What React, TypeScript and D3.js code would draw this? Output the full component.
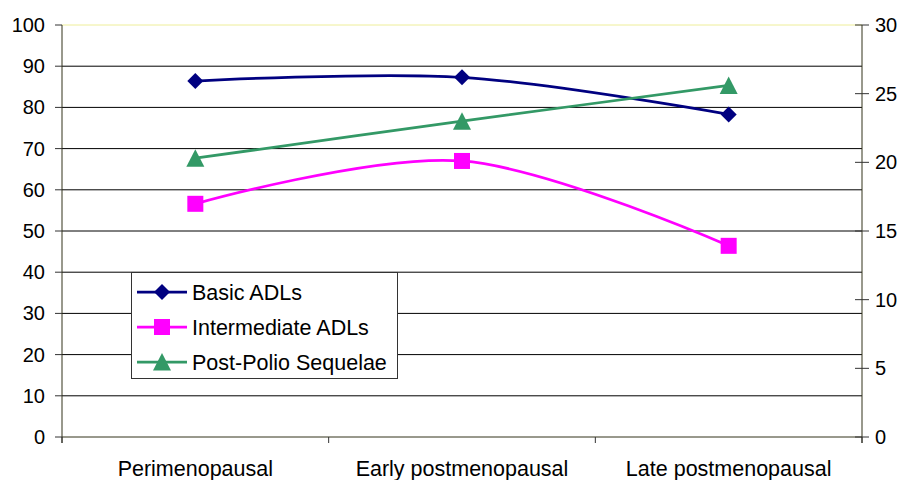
import * as d3 from "d3";
import * as React from "react";

const categories = ["Perimenopausal", "Early postmenopausal", "Late postmenopausal"];
const basicADLs = [86.4, 87.3, 78.3];
const intermediateADLs = [56.6, 67.0, 46.4];
const postPolio = [20.3, 23.0, 25.6];
const leftTicks = [0, 10, 20, 30, 40, 50, 60, 70, 80, 90, 100];
const rightTicks = [0, 5, 10, 15, 20, 25, 30];

const width = 904;
const height = 480;
const margin = { left: 62, right: 42, top: 25, bottom: 43 };
const font = "'Liberation Sans', Arial, sans-serif";

export default function App() {
  const innerW = width - margin.left - margin.right;
  const x = d3.scaleBand().domain(categories).range([margin.left, width - margin.right]);
  const yLeft = d3.scaleLinear().domain([0, 100]).range([height - margin.bottom, margin.top]);
  const yRight = d3.scaleLinear().domain([0, 30]).range([height - margin.bottom, margin.top]);
  const cx = (c: string) => (x(c) as number) + x.bandwidth() / 2;

  const line = (scale: d3.ScaleLinear<number, number>, vals: number[]) =>
    d3.line<number>()
      .x((_, i) => cx(categories[i]))
      .y((d) => scale(d))
      .curve(d3.curveCardinal.tension(0))(vals) as string;

  const series = [
    { name: "Basic ADLs", color: "#000080", vals: basicADLs, scale: yLeft, shape: "diamond" },
    { name: "Intermediate ADLs", color: "#FF00FF", vals: intermediateADLs, scale: yLeft, shape: "square" },
    { name: "Post-Polio Sequelae", color: "#339966", vals: postPolio, scale: yRight, shape: "triangle" },
  ];

  const marker = (shape: string, px: number, py: number, color: string, key: any) => {
    if (shape === "diamond")
      return <path key={key} d={`M${px},${py - 8}L${px + 8},${py}L${px},${py + 8}L${px - 8},${py}Z`} fill={color} />;
    if (shape === "square")
      return <rect key={key} x={px - 8} y={py - 8} width={16} height={16} fill={color} />;
    return <path key={key} d={`M${px},${py - 9}L${px + 9},${py + 8.5}L${px - 9},${py + 8.5}Z`} fill={color} />;
  };

  const bottom = height - margin.bottom;
  const right = width - margin.right;

  return (
    <svg width={width} height={height} style={{ position: "absolute", left: 0, top: 0, background: "#fff" }}
      fontFamily={font}>
      {/* gridlines */}
      {leftTicks.filter((t) => t > 0 && t < 100).map((t) => (
        <line key={t} x1={margin.left} x2={right} y1={yLeft(t)} y2={yLeft(t)} stroke="#000" strokeWidth={1} />
      ))}
      <line x1={margin.left} x2={right} y1={yLeft(100)} y2={yLeft(100)} stroke="#eeee99" strokeWidth={1} />

      {/* axes */}
      <line x1={margin.left} x2={margin.left} y1={margin.top} y2={bottom + 6} stroke="#33331a" />
      <line x1={right} x2={right} y1={margin.top} y2={bottom + 6} stroke="#33331a" />
      <line x1={margin.left} x2={right} y1={bottom} y2={bottom} stroke="#33331a" />
      {leftTicks.map((t) => (
        <g key={t}>
          <line x1={margin.left - 7} x2={margin.left} y1={yLeft(t)} y2={yLeft(t)} stroke="#333" />
          <text x={margin.left - 17} y={yLeft(t)} dy="0.35em" textAnchor="end" fontSize={20}>{t}</text>
        </g>
      ))}
      {rightTicks.map((t) => (
        <g key={t}>
          <line x1={right - 7} x2={right + 7} y1={yRight(t)} y2={yRight(t)} stroke="#333" />
          <text x={right + 13} y={yRight(t)} dy="0.35em" textAnchor="start" fontSize={20}>{t}</text>
        </g>
      ))}
      {d3.range(categories.length + 1).map((i) => (
        <line key={i} x1={margin.left + (innerW / categories.length) * i} x2={margin.left + (innerW / categories.length) * i}
          y1={bottom} y2={bottom + 6} stroke="#333" />
      ))}
      {categories.map((c) => (
        <text key={c} x={cx(c)} y={bottom + 31} dy="0.35em" textAnchor="middle" fontSize={21.5}>{c}</text>
      ))}

      {/* series */}
      {series.map((s) => (
        <g key={s.name}>
          <path d={line(s.scale, s.vals)} fill="none" stroke={s.color} strokeWidth={2.75} />
          {s.vals.map((v, i) => marker(s.shape, cx(categories[i]), s.scale(v), s.color, i))}
        </g>
      ))}

      {/* legend */}
      <g>
        <rect x={131.5} y={272.5} width={266} height={106} fill="#fff" stroke="#333" strokeWidth={1} />
        {series.map((s, i) => {
          const ly = 292 + i * 35;
          return (
            <g key={s.name}>
              <line x1={137} x2={187} y1={ly} y2={ly} stroke={s.color} strokeWidth={2.75} />
              {marker(s.shape, 162, ly, s.color, "m")}
              <text x={192} y={ly} dy="0.35em" fontSize={21.5}>{s.name}</text>
            </g>
          );
        })}
      </g>
    </svg>
  );
}
